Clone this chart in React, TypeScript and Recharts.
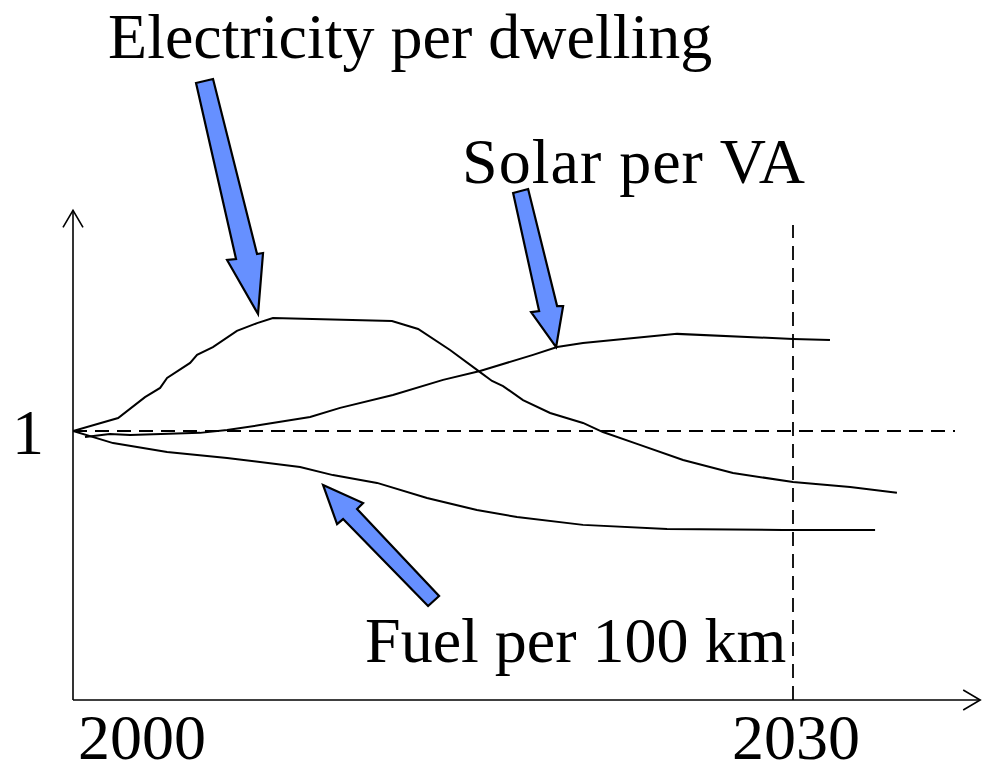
import React from "react";
import { LineChart, Line, XAxis, YAxis, ReferenceLine, ReferenceDot } from "recharts";

// [year, index relative to 2000]
const electricityPerDwelling: [number, number][] = [
  [2000, 1.0], [2001.88, 1.048], [2003.0, 1.126], [2003.63, 1.16], [2003.92, 1.197],
  [2004.88, 1.253], [2005.17, 1.283], [2005.83, 1.312], [2006.83, 1.372], [2007.67, 1.401],
  [2008.33, 1.42], [2013.29, 1.409], [2014.38, 1.379], [2015.71, 1.301], [2016.96, 1.219],
  [2017.46, 1.186], [2017.92, 1.167], [2018.75, 1.115], [2019.88, 1.067], [2021.25, 1.03],
  [2022.08, 0.996], [2023.5, 0.952], [2025.42, 0.892], [2027.5, 0.844], [2030.0, 0.81],
  [2032.38, 0.792], [2034.33, 0.77],
];

const solarPerVA: [number, number][] = [
  [2000.5, 0.978], [2001.54, 0.989], [2002.38, 0.985], [2005.29, 0.993], [2006.42, 1.004],
  [2007.79, 1.022], [2009.88, 1.052], [2011.13, 1.086], [2013.33, 1.134], [2015.42, 1.19],
  [2016.96, 1.223], [2019.17, 1.283], [2020.17, 1.312], [2021.25, 1.327], [2025.17, 1.361],
  [2030.0, 1.342], [2031.54, 1.338],
];

const fuelPer100km: [number, number][] = [
  [2000, 1.0], [2001.67, 0.955], [2003.92, 0.922], [2006.42, 0.9], [2009.46, 0.866],
  [2010.83, 0.836], [2012.67, 0.807], [2014.75, 0.751], [2016.83, 0.706], [2018.5, 0.68],
  [2021.25, 0.651], [2024.75, 0.636], [2029.58, 0.632], [2033.42, 0.632],
];

const xTicks = [2000, 2030];
const yTicks = [1];

// where each annotation arrow points
const elecArrowTip = { x: 2007.71, y: 1.435 };
const solarArrowTip = { x: 2020.13, y: 1.312 };
const fuelArrowTip = { x: 2010.42, y: 0.799 };

const X_MAX = 2037.8;
const Y_MAX = 1.82;

const FONT = '"Liberation Serif", "Times New Roman", serif';
const BLUE = "#6690ff";

const toRows = (pts: [number, number][]) => pts.map(([x, y]) => ({ x, y }));

const arrowShape = (pts: number[][], label: string, lx: number, ly: number, spacing = 0) => (props: any) => {
  const { cx, cy } = props;
  const poly = pts.map(([dx, dy]) => `${cx + dx},${cy + dy}`).join(" ");
  return (
    <g>
      <polygon points={poly} fill={BLUE} stroke="#000" strokeWidth={2.2} strokeLinejoin="miter" />
      <text x={cx + lx} y={cy + ly} fontSize={64} fontFamily={FONT} fill="#000" letterSpacing={spacing}>
        {label}
      </text>
    </g>
  );
};

const elecArrow = arrowShape(
  [[0, 0], [-31, -54], [-22, -55], [-62, -231], [-45, -235], [-1, -60], [5, -61]],
  "Electricity per dwelling", -150, -256
);
const solarArrow = arrowShape(
  [[0, 0], [-25, -35], [-17, -36], [-43, -154], [-28, -158], [1, -41], [7, -41]],
  "Solar per VA", -94, -164, 1
);
const fuelArrow = arrowShape(
  [[0, 0], [40, 18], [34, 24], [116, 111], [105, 121], [20, 34], [14, 39]],
  "Fuel per 100 km", 42, 177
);

const xArrowHead = (props: any) => {
  const { cx, cy } = props;
  return <polyline points={`${cx - 17},${cy - 10} ${cx},${cy} ${cx - 17},${cy + 10}`} fill="none" stroke="#000" strokeWidth={1.6} />;
};
const yArrowHead = (props: any) => {
  const { cx, cy } = props;
  return <polyline points={`${cx - 10},${cy + 17} ${cx},${cy} ${cx + 10},${cy + 17}`} fill="none" stroke="#000" strokeWidth={1.6} />;
};

const XTick = (props: any) => {
  const { x, y, payload } = props;
  const first = payload.value === 2000;
  return (
    <text x={first ? x + 5 : x + 3} y={y} dy={44} textAnchor={first ? "start" : "middle"} fontSize={64} fontFamily={FONT} fill="#000">
      {payload.value}
    </text>
  );
};

export default function App() {
  return (
    <div style={{ position: "absolute", left: 0, top: 0, width: 987, height: 760, overflow: "hidden", background: "#fff" }}>
      <LineChart width={987} height={760} margin={{ top: 210.4, right: 6.8, bottom: 0, left: 0 }}>
        <XAxis
          type="number"
          dataKey="x"
          domain={[2000, X_MAX]}
          ticks={xTicks}
          tick={XTick}
          tickLine={false}
          tickSize={0}
          tickMargin={15}
          height={60}
          axisLine={{ stroke: "#000", strokeWidth: 1.6 }}
          allowDataOverflow
        />
        <YAxis
          type="number"
          domain={[0, Y_MAX]}
          ticks={yTicks}
          width={73}
          tickLine={false}
          tickSize={0}
          tickMargin={29}
          tick={{ fontSize: 64, fontFamily: FONT, fill: "#000" }}
          axisLine={{ stroke: "#000", strokeWidth: 1.6 }}
          allowDataOverflow
        />
        <ReferenceLine
          segment={[{ x: 2000, y: 1 }, { x: 2036.75, y: 1 }]}
          stroke="#000"
          strokeWidth={1.8}
          strokeDasharray="14 8"
        />
        <ReferenceLine
          segment={[{ x: 2030, y: 0 }, { x: 2030, y: 1.766 }]}
          stroke="#000"
          strokeWidth={1.8}
          strokeDasharray="14 8"
        />
        <Line data={toRows(electricityPerDwelling)} dataKey="y" type="linear" stroke="#000" strokeWidth={2} dot={false} isAnimationActive={false} />
        <Line data={toRows(solarPerVA)} dataKey="y" type="linear" stroke="#000" strokeWidth={2} dot={false} isAnimationActive={false} />
        <Line data={toRows(fuelPer100km)} dataKey="y" type="linear" stroke="#000" strokeWidth={2} dot={false} isAnimationActive={false} />
        <ReferenceDot x={X_MAX} y={0} shape={xArrowHead} />
        <ReferenceDot x={2000} y={Y_MAX} shape={yArrowHead} />
        <ReferenceDot x={elecArrowTip.x} y={elecArrowTip.y} shape={elecArrow} />
        <ReferenceDot x={solarArrowTip.x} y={solarArrowTip.y} shape={solarArrow} />
        <ReferenceDot x={fuelArrowTip.x} y={fuelArrowTip.y} shape={fuelArrow} />
      </LineChart>
    </div>
  );
}
